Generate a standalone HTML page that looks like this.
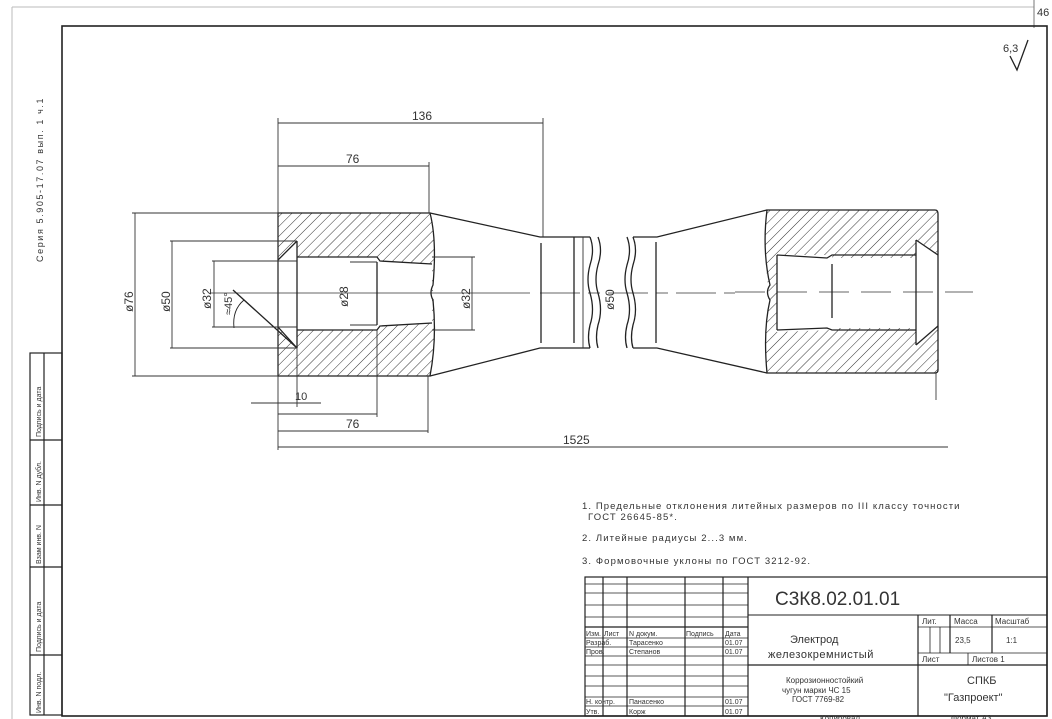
<!DOCTYPE html>
<html><head><meta charset="utf-8"><style>
html,body{margin:0;padding:0;background:#fff}
svg{display:block}
text{font-family:"Liberation Sans",sans-serif;fill:#333}
</style></head><body>
<svg width="1052" height="719" viewBox="0 0 1052 719" xmlns="http://www.w3.org/2000/svg">
<defs>
<pattern id="h" patternUnits="userSpaceOnUse" width="7" height="7" patternTransform="rotate(45)">
<line x1="0" y1="0" x2="0" y2="7" stroke="#333" stroke-width="1"/>
</pattern>
</defs>
<line x1="12" y1="7" x2="1034" y2="7" stroke="#bbb" stroke-width="1"/>
<line x1="12" y1="7" x2="12" y2="719" stroke="#bbb" stroke-width="1"/>
<line x1="1034" y1="0" x2="1034" y2="28" stroke="#777" stroke-width="1"/>
<text x="1037" y="16" font-size="11">46</text>
<rect x="62" y="26" width="985" height="690" fill="none" stroke="#222" stroke-width="1.6"/>
<text transform="translate(43,262) rotate(-90)" font-size="9" letter-spacing="1.6">Серия 5.905-17.07 вып. 1 ч.1</text>
<g stroke="#222" stroke-width="1.2" fill="none">
<rect x="30" y="353" width="32" height="362"/>
<line x1="44" y1="353" x2="44" y2="715"/>
<line x1="30" y1="440" x2="62" y2="440"/>
<line x1="30" y1="505" x2="62" y2="505"/>
<line x1="30" y1="567" x2="62" y2="567"/>
<line x1="30" y1="655" x2="62" y2="655"/>
</g>
<g font-size="7">
<text transform="translate(41,437) rotate(-90)">Подпись и дата</text>
<text transform="translate(41,502) rotate(-90)">Инв. N дубл.</text>
<text transform="translate(41,564) rotate(-90)">Взам инв. N</text>
<text transform="translate(41,652) rotate(-90)">Подпись и дата</text>
<text transform="translate(41,713) rotate(-90)">Инв. N подл.</text>
</g>
<text x="1003" y="52" font-size="11">6,3</text>
<polyline points="1010,56 1017,70 1028,40" fill="none" stroke="#222" stroke-width="1.3"/>

<line x1="210" y1="293" x2="530" y2="293" stroke="#333" stroke-width="0.8"/>
<line x1="540" y1="293" x2="735" y2="293" stroke="#333" stroke-width="0.8" stroke-dasharray="40,8,12,8"/>
<line x1="735" y1="292" x2="973" y2="292" stroke="#333" stroke-width="0.8" stroke-dasharray="30,12"/>

<path fill="url(#h)" fill-rule="evenodd" stroke="none" d="M278,213 L430,213 Q437,240 433,290 Q437,340 430,376 L278,376 Z M278,260 L297,241 L297,257 L377,257 L380,261 L432,264 L432,323 L380,326 L377,330 L297,330 L297,348 L278,327 Z"/>
<g stroke="#222" stroke-width="1.3" fill="none">
<path d="M278,213 L430,213 Q437,240 433,285 Q429,293 433,300 Q437,340 430,376 L278,376 Z"/>
<polyline points="297,241 297,348"/>
<polyline points="278,260 297,241"/>
<polyline points="278,327 297,348"/>
<polyline points="297,257 377,257 380,261 432,264"/>
<polyline points="297,330 377,330 380,326 432,323"/>
<line x1="377" y1="262" x2="377" y2="325"/>
<line x1="233" y1="290" x2="297" y2="348"/>
<path d="M244,300 Q232,310 234,328" stroke-width="0.9"/>
<polyline points="430,213 540,237 590,237"/>
<polyline points="430,376 540,348 590,348"/>
<path d="M590,237 Q595,250 590,265 Q586,280 590,293 Q595,310 590,325 Q587,338 590,348"/>
<path d="M598,237 Q603,250 598,265 Q594,280 598,293 Q603,310 598,325 Q595,338 598,348"/>
<line x1="541" y1="243" x2="541" y2="343"/>
<polyline points="633,237 657,237 767,210"/>
<polyline points="633,348 657,348 767,373"/>
<path d="M627,237 Q632,250 627,265 Q623,280 627,293 Q632,310 627,325 Q624,338 627,348"/>
<path d="M633,237 Q638,250 633,265 Q629,280 633,293 Q638,310 633,325 Q630,338 633,348"/>
<line x1="574" y1="237" x2="574" y2="343"/>
<line x1="656" y1="242" x2="656" y2="343"/>
</g>
<path fill="url(#h)" fill-rule="evenodd" stroke="none" d="M767,210 L935,210 Q938,210 938,214 L938,370 Q938,373 935,373 L767,373 Q763,330 770,300 Q762,250 767,210 Z M777,255 L832,255 L832,258 L916,258 L916,240 L938,255 L938,325 L916,345 L916,328 L832,328 L832,330 L777,332 Z"/>
<g stroke="#222" stroke-width="1.3" fill="none">
<path d="M767,210 L935,210 Q938,210 938,214 L938,370 Q938,373 935,373 L767,373 Q763,330 770,300 Q765,292 770,285 Q762,250 767,210 Z"/>
<polyline points="777,255 827,258 832,255 916,255"/>
<polyline points="777,330 827,328 832,330 916,330"/>
<line x1="777" y1="255" x2="777" y2="330"/>
<line x1="832" y1="264" x2="832" y2="318"/>
<polyline points="916,240 916,345"/>
<polyline points="916,240 938,255"/>
<polyline points="916,345 938,326"/>
<line x1="936" y1="373" x2="936" y2="400" stroke-width="0.8"/>
</g>

<g stroke="#333" stroke-width="0.9" fill="none">
<line x1="278" y1="118" x2="278" y2="450"/>
<line x1="543" y1="118" x2="543" y2="237"/>
<line x1="278" y1="123" x2="543" y2="123"/>
<line x1="429" y1="162" x2="429" y2="213"/>
<line x1="278" y1="166" x2="429" y2="166"/>
<line x1="132" y1="213" x2="278" y2="213"/>
<line x1="132" y1="376" x2="278" y2="376"/>
<line x1="135" y1="213" x2="135" y2="376"/>
<line x1="170" y1="241" x2="297" y2="241"/>
<line x1="170" y1="348" x2="297" y2="348"/>
<line x1="172" y1="241" x2="172" y2="348"/>
<line x1="212" y1="261" x2="297" y2="261"/>
<line x1="212" y1="327" x2="297" y2="327"/>
<line x1="214" y1="261" x2="214" y2="327"/>
<line x1="350" y1="262" x2="377" y2="262"/>
<line x1="350" y1="325" x2="377" y2="325"/>
<line x1="432" y1="257" x2="475" y2="257"/>
<line x1="432" y1="330" x2="475" y2="330"/>
<line x1="472" y1="257" x2="472" y2="330"/>
<line x1="583" y1="237" x2="583" y2="348"/>
<line x1="297" y1="348" x2="297" y2="407"/>
<line x1="251" y1="403" x2="321" y2="403"/>
<line x1="377" y1="330" x2="377" y2="417"/>
<line x1="278" y1="414" x2="377" y2="414"/>
<line x1="428" y1="376" x2="428" y2="433"/>
<line x1="278" y1="431" x2="428" y2="431"/>
<line x1="278" y1="447" x2="948" y2="447"/>
</g>
<g font-size="12">
<text x="412" y="120">136</text>
<text x="346" y="163">76</text>
<text x="295" y="400" font-size="11">10</text>
<text x="346" y="428">76</text>
<text x="563" y="444">1525</text>
<text transform="translate(133,312) rotate(-90)">ø76</text>
<text transform="translate(170,312) rotate(-90)">ø50</text>
<text transform="translate(211,309) rotate(-90)">ø32</text>
<text transform="translate(232,315) rotate(-90)" font-size="11">≈45°</text>
<text transform="translate(348,307) rotate(-90)">ø28</text>
<text transform="translate(470,309) rotate(-90)">ø32</text>
<text transform="translate(614,310) rotate(-90)">ø50</text>
</g>

<g font-size="9.5" letter-spacing="1.1">
<text x="582" y="509">1. Предельные отклонения литейных размеров по III классу точности</text>
<text x="588" y="520">ГОСТ 26645-85*.</text>
<text x="582" y="541">2. Литейные радиусы 2...3 мм.</text>
<text x="582" y="564">3. Формовочные уклоны по ГОСТ 3212-92.</text>
</g>

<g stroke="#222" stroke-width="1.2" fill="none">
<rect x="585" y="577" width="462" height="139"/>
<line x1="748" y1="577" x2="748" y2="716"/>
<line x1="603" y1="577" x2="603" y2="716"/>
<line x1="627" y1="577" x2="627" y2="716"/>
<line x1="685" y1="577" x2="685" y2="716"/>
<line x1="723" y1="577" x2="723" y2="716"/>
<line x1="748" y1="615" x2="1047" y2="615" stroke-width="1"/>
<line x1="748" y1="665" x2="1047" y2="665"/>
<line x1="918" y1="615" x2="918" y2="716"/>
<line x1="918" y1="627" x2="1047" y2="627" stroke-width="0.8"/>
<line x1="918" y1="653" x2="1047" y2="653" stroke-width="0.8"/>
<line x1="950" y1="615" x2="950" y2="653"/>
<line x1="992" y1="615" x2="992" y2="653"/>
<line x1="930" y1="627" x2="930" y2="653" stroke-width="0.8"/>
<line x1="940" y1="627" x2="940" y2="653" stroke-width="0.8"/>
<line x1="968" y1="653" x2="968" y2="665" stroke-width="0.8"/>
</g>
<g stroke="#222" stroke-width="0.8">
<line x1="585" y1="584" x2="748" y2="584"/>
<line x1="585" y1="593" x2="748" y2="593"/>
<line x1="585" y1="605" x2="748" y2="605"/>
<line x1="585" y1="617" x2="748" y2="617"/>
<line x1="585" y1="627" x2="748" y2="627" stroke-width="1.2"/>
<line x1="585" y1="638" x2="748" y2="638"/>
<line x1="585" y1="647" x2="748" y2="647"/>
<line x1="585" y1="656" x2="748" y2="656"/>
<line x1="585" y1="665" x2="748" y2="665"/>
<line x1="585" y1="676" x2="748" y2="676"/>
<line x1="585" y1="686" x2="748" y2="686"/>
<line x1="585" y1="697" x2="748" y2="697"/>
<line x1="585" y1="706" x2="748" y2="706"/>
</g>
<g font-size="7">
<text x="586" y="636">Изм.</text><text x="604" y="636">Лист</text><text x="629" y="636">N докум.</text><text x="686" y="636">Подпись</text><text x="725" y="636">Дата</text>
<text x="586" y="645">Разраб.</text><text x="629" y="645">Тарасенко</text><text x="725" y="645">01.07</text>
<text x="586" y="654">Пров.</text><text x="629" y="654">Степанов</text><text x="725" y="654">01.07</text>
<text x="586" y="704">Н. контр.</text><text x="629" y="704">Панасенко</text><text x="725" y="704">01.07</text>
<text x="586" y="714">Утв.</text><text x="629" y="714">Корж</text><text x="725" y="714">01.07</text>
</g>
<text x="775" y="605" font-size="19" fill="#444">С3К8.02.01.01</text>
<text x="790" y="643" font-size="11">Электрод</text>
<text x="768" y="658" font-size="11" letter-spacing="0.5">железокремнистый</text>
<text x="786" y="683" font-size="8">Коррозионностойкий</text>
<text x="782" y="693" font-size="8">чугун марки ЧС 15</text>
<text x="792" y="702" font-size="8">ГОСТ 7769-82</text>
<text x="922" y="624" font-size="8">Лит.</text>
<text x="954" y="624" font-size="8">Масса</text>
<text x="995" y="624" font-size="8">Масштаб</text>
<text x="955" y="643" font-size="8">23,5</text>
<text x="1006" y="643" font-size="8">1:1</text>
<text x="922" y="662" font-size="8">Лист</text>
<text x="972" y="662" font-size="8">Листов 1</text>
<text x="967" y="684" font-size="11">СПКБ</text>
<text x="944" y="701" font-size="11">"Газпроект"</text>
<text x="820" y="721" font-size="8">Копировал</text>
<text x="951" y="721" font-size="8">Формат А3</text>
</svg>
</body></html>
